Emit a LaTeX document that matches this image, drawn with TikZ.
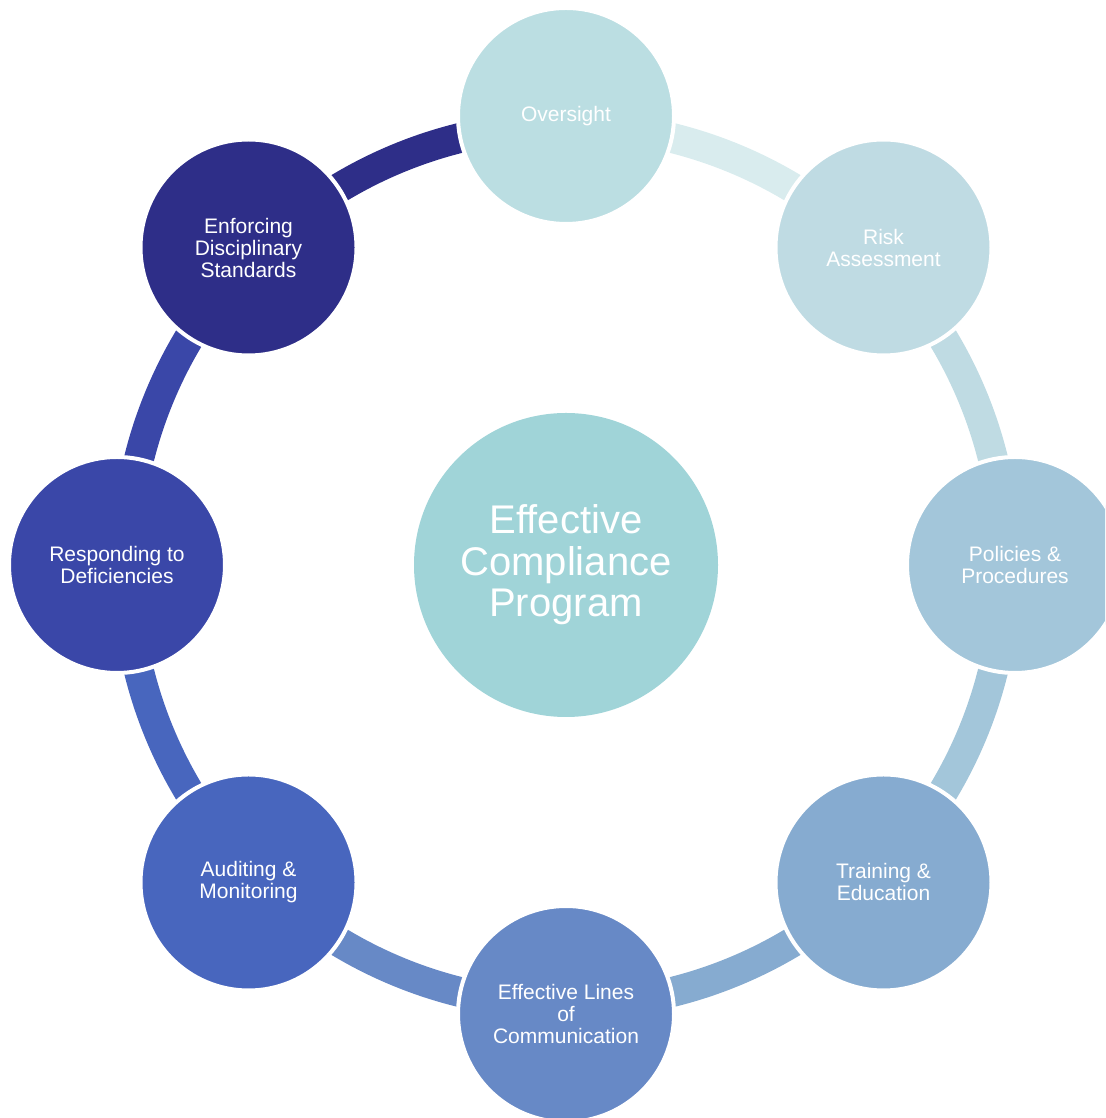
\documentclass[tikz,border=0pt]{standalone}
\usepackage{fontspec}
\setmainfont{Liberation Sans}
\definecolor{cOvs}{HTML}{BBDEE2}
\definecolor{cOvsArc}{HTML}{D9ECEE}
\definecolor{cRisk}{HTML}{BFDBE3}
\definecolor{cPol}{HTML}{A3C6DA}
\definecolor{cTrn}{HTML}{86ABD0}
\definecolor{cEff}{HTML}{6789C6}
\definecolor{cAud}{HTML}{4866BE}
\definecolor{cRsp}{HTML}{3A47A8}
\definecolor{cEnf}{HTML}{2E2E88}
\definecolor{cHub}{HTML}{A0D4D8}
\tikzset{
  element/.style={circle, minimum size=216pt, inner sep=0pt, draw=white,
    line width=4pt, text=white, align=center,
    font=\fontsize{21}{22}\selectfont},
  core/.style={circle, minimum size=304pt, inner sep=0pt, fill=cHub,
    text=white, align=center, font=\fontsize{40}{41.5}\selectfont},
  link/.style={line width=30pt}
}
\begin{document}
\begin{tikzpicture}[x=1pt,y=1pt]
\useasboundingbox (0,0) rectangle (1105,1118);
\clip (0,0) rectangle (1105,1118);
\coordinate (hub) at (566,553);

% ring segments, drawn clockwise beneath the circles
\draw[link, cOvsArc] ([shift={(90:440)}]hub) arc[start angle=90, end angle=45, radius=440];
\draw[link, cRisk] ([shift={(45:440)}]hub) arc[start angle=45, end angle=0, radius=440];
\draw[link, cPol] ([shift={(0:440)}]hub) arc[start angle=0, end angle=-45, radius=440];
\draw[link, cTrn] ([shift={(-45:440)}]hub) arc[start angle=-45, end angle=-90, radius=440];
\draw[link, cEff] ([shift={(-90:440)}]hub) arc[start angle=-90, end angle=-135, radius=440];
\draw[link, cAud] ([shift={(-135:440)}]hub) arc[start angle=-135, end angle=-180, radius=440];
\draw[link, cRsp] ([shift={(180:440)}]hub) arc[start angle=180, end angle=135, radius=440];
\draw[link, cEnf] ([shift={(135:440)}]hub) arc[start angle=135, end angle=90, radius=440];

% central element
\node[core] (center) at (hub) {Effective\\Compliance\\Program};

% the eight program elements
\node[element, fill=cOvs] (ovs) at ([shift={(90:449)}]hub) {Oversight};
\node[element, fill=cRisk] (risk) at ([shift={(45:449)}]hub) {Risk\\Assessment};
\node[element, fill=cPol] (pol) at ([shift={(0:449)}]hub) {Policies \&\\Procedures};
\node[element, fill=cTrn] (trn) at ([shift={(-45:449)}]hub) {Training \&\\Education};
\node[element, fill=cEff] (eff) at ([shift={(-90:449)}]hub) {Effective Lines\\of\\Communication};
\node[element, fill=cAud] (aud) at ([shift={(-135:449)}]hub) {Auditing \&\\Monitoring};
\node[element, fill=cRsp] (rsp) at ([shift={(180:449)}]hub) {Responding to\\Deficiencies};
\node[element, fill=cEnf] (enf) at ([shift={(135:449)}]hub) {Enforcing\\Disciplinary\\Standards};
\end{tikzpicture}
\end{document}
